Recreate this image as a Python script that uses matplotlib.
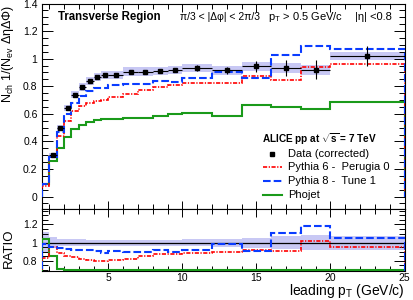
import numpy as np
import matplotlib
matplotlib.use("Agg")
import matplotlib.pyplot as plt
from matplotlib.lines import Line2D
from matplotlib.ticker import MultipleLocator, FormatStrFormatter

plt.rcParams['font.family'] = ['Liberation Sans', 'DejaVu Sans']
plt.rcParams['mathtext.fontset'] = 'custom'
plt.rcParams['mathtext.rm'] = 'Liberation Sans'
plt.rcParams['mathtext.it'] = 'Liberation Sans:italic'
plt.rcParams['mathtext.bf'] = 'Liberation Sans:bold'
plt.rcParams['lines.scale_dashes'] = False

# bin edges in leading pT (GeV/c)
edges = [0.5, 1, 1.5, 2, 2.5, 3, 3.5, 4, 4.5, 5, 6, 7, 8, 9, 10, 12, 14, 16, 18, 20, 25]

# data (corrected), statistical and systematic errors
data = [0.09, 0.30, 0.497, 0.641, 0.739, 0.797, 0.838, 0.865, 0.882, 0.884,
        0.906, 0.906, 0.908, 0.92, 0.93, 0.915, 0.944, 0.93, 0.92, 1.017]
stat = [0.003, 0.004, 0.005, 0.005, 0.005, 0.005, 0.005, 0.006, 0.006, 0.006,
        0.008, 0.009, 0.01, 0.012, 0.022, 0.024, 0.04, 0.058, 0.068, 0.072]
syst = [0.01, 0.017, 0.02, 0.024, 0.026, 0.028, 0.028, 0.028, 0.028, 0.028,
        0.03, 0.03, 0.03, 0.03, 0.03, 0.03, 0.032, 0.035, 0.035, 0.03]

# models
pythia6 = [0.075, 0.285, 0.442, 0.546, 0.623, 0.654, 0.679, 0.69, 0.703, 0.72,
           0.744, 0.775, 0.792, 0.81, 0.826, 0.824, 0.872, 0.845, 0.94, 0.964]
pythia8 = [0.089, 0.285, 0.466, 0.597, 0.68, 0.731, 0.767, 0.784, 0.784, 0.807,
           0.815, 0.816, 0.836, 0.83, 0.86, 0.90, 0.862, 1.03, 1.09, 1.068]
phojet = [0.094, 0.255, 0.352, 0.435, 0.49, 0.517, 0.538, 0.553, 0.56, 0.563,
          0.57, 0.57, 0.585, 0.596, 0.605, 0.582, 0.664, 0.648, 0.632, 0.683]

edges = np.array(edges)
data = np.array(data)
stat = np.array(stat)
syst = np.array(syst)
centers = 0.5 * (edges[:-1] + edges[1:])
halfw = 0.5 * (edges[1:] - edges[:-1])

W, H = 414, 300
def fx(x):
    return x / W
def fy(y):
    return 1 - y / H

red = '#ff0000'
blue = '#0a3cff'
green = '#1a9a1a'
band = '#c8c8f4'
dash_blue = (0, (5.5, 2.2))
dash_red = (0, (3.0, 1.1, 0.9, 1.1))

fig = plt.figure(figsize=(4.14, 3.0), dpi=100)
L, R = 41.7, 404.5
AW = R - L
ax1 = fig.add_axes([fx(L), fy(209), AW / W, (209 - 3.5) / H])
ax2 = fig.add_axes([fx(L), fy(270.5), AW / W, (270.5 - 209) / H])

# ---- top panel
s = slice(1, None)
ax1.stairs((data + syst)[s], edges[1:], baseline=(data - syst)[s], fill=True,
           color=band, lw=0, zorder=1)
ax1.stairs(phojet, edges, baseline=0, color=green, lw=1.5, zorder=2)
ax1.stairs(pythia6, edges, baseline=0, color=red, lw=1.2, ls=dash_red, zorder=3)
ax1.stairs(pythia8, edges, baseline=0, color=blue, lw=1.5, ls=dash_blue, zorder=4)
ax1.errorbar(centers[s], data[s], xerr=halfw[s], yerr=stat[s], fmt='s', ms=3.3,
             color='black', ecolor='black', elinewidth=0.8, capsize=0, zorder=5)

ax1.set_xlim(0.5, 25)
ax1.set_ylim(-0.09, 1.4)
ax1.set_yticks(np.arange(0, 1.41, 0.2))
ax1.yaxis.set_minor_locator(MultipleLocator(0.05))
ax1.xaxis.set_major_locator(MultipleLocator(5))
ax1.xaxis.set_minor_locator(MultipleLocator(1))
ax1.yaxis.set_major_formatter(FormatStrFormatter('%g'))
ax1.tick_params(which='both', direction='in', top=True, right=True,
                labelbottom=False, labelsize=7.5, width=0.7, pad=3)
ax1.tick_params(axis='y', which='major', length=8)
ax1.tick_params(axis='y', which='minor', length=4)
ax1.tick_params(axis='x', which='major', length=6)
ax1.tick_params(axis='x', which='minor', length=3.5)
ax1.set_ylabel(r'N$_{\rm ch}$ 1/(N$_{\rm ev}$ ΔηΔΦ)', fontsize=9, loc='top')
ax1.yaxis.set_label_coords((16 - L) / AW, (209 - 5) / 205.5)

# ---- ratio panel
rband = np.sqrt(stat ** 2 + syst ** 2) / data
ax2.stairs(1 + rband, edges, baseline=1 - rband, fill=True, color=band, lw=0, zorder=1)
ax2.axhline(1.0, color='black', lw=0.9, zorder=2)
lo = 0.698
ax2.stairs(np.clip(np.array(phojet) / data, lo, None), edges, baseline=0,
           color=green, lw=1.5, zorder=3)
ax2.stairs(np.clip(np.array(pythia6) / data, lo, None), edges, baseline=0,
           color=red, lw=1.2, ls=dash_red, zorder=4)
ax2.stairs(np.clip(np.array(pythia8) / data, lo, None), edges, baseline=0,
           color=blue, lw=1.5, ls=dash_blue, zorder=5)

ax2.set_xlim(0.5, 25)
ax2.set_ylim(0.695, 1.37)
ax2.set_yticks([0.8, 1.0, 1.2])
ax2.yaxis.set_minor_locator(MultipleLocator(0.05))
ax2.xaxis.set_major_locator(MultipleLocator(5))
ax2.xaxis.set_minor_locator(MultipleLocator(1))
ax2.yaxis.set_major_formatter(FormatStrFormatter('%g'))
ax2.tick_params(which='both', direction='in', top=True, right=True,
                labelsize=7.5, width=0.7, pad=3)
ax2.tick_params(axis='x', which='both', pad=1.5)
ax2.tick_params(axis='y', which='major', length=8)
ax2.tick_params(axis='y', which='minor', length=4)
ax2.tick_params(axis='x', which='major', length=6)
ax2.tick_params(axis='x', which='minor', length=3.5)
ax2.set_ylabel('RATIO', fontsize=9.5)
ax2.yaxis.set_label_coords((15 - L) / AW, (270.5 - 248.5) / 61.5)
ax2.set_xlabel(r'leading p$_{\rm T}$ (GeV/c)', fontsize=10, loc='right', va='center')
ax2.xaxis.set_label_coords(1.0, (270.5 - 290.5) / 61.5)

for ax in (ax1, ax2):
    for sp in ax.spines.values():
        sp.set_linewidth(0.8)

# ---- header texts
fig.text(fx(58), fy(17), 'Transverse Region', fontsize=8.3, fontweight='bold', va='center')
fig.text(fx(180), fy(17), 'π/3 < |Δφ| < 2π/3', fontsize=7.5, va='center')
fig.text(fx(268), fy(17), r'p$_{\rm T}$ > 0.5 GeV/c', fontsize=8, va='center')
fig.text(fx(355), fy(17), '|η| <0.8', fontsize=8, va='center')

# ---- legend
fig.text(fx(262), fy(139), r'ALICE pp at $\mathbf{\sqrt{s}}$ = 7 TeV', fontsize=7.2,
         fontweight='bold', va='center')
rows = [154, 166.5, 181, 195]
labels = ['Data (corrected)', 'Pythia 6 -  Perugia 0', 'Pythia 8 -  Tune 1', 'Phojet']
fig.add_artist(Line2D([fx(272)], [fy(rows[0])], marker='s', ms=3.3, color='black', ls='none'))
fig.add_artist(Line2D([fx(263), fx(282)], [fy(rows[1])] * 2, color=red, lw=1.2, ls=dash_red))
fig.add_artist(Line2D([fx(263), fx(282)], [fy(rows[2])] * 2, color=blue, lw=1.5, ls=dash_blue))
fig.add_artist(Line2D([fx(263), fx(282)], [fy(rows[3])] * 2, color=green, lw=1.5))
for y, t in zip(rows, labels):
    fig.text(fx(288), fy(y), t, fontsize=8, va='center')

fig.savefig('out.png', dpi=100)
